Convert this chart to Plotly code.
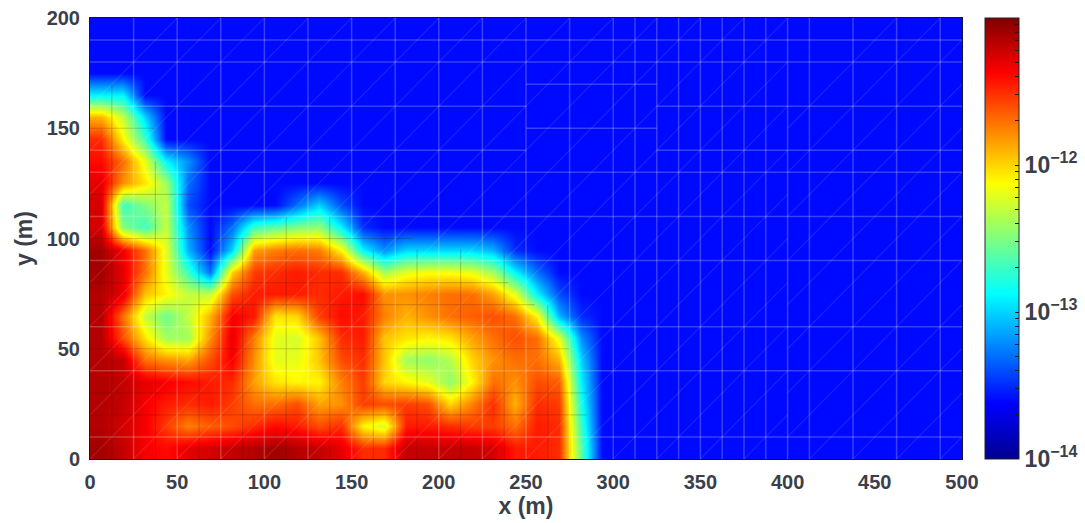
import math
import plotly.graph_objects as go

FONT = "Liberation Sans"
INK = "#3a3f4a"
BACKGROUND = -13.6          # log10 of the undisturbed region
N_COLS, N_ROWS = 40, 20
cell_x = [6.25 + 12.5 * i for i in range(N_COLS)]
cell_y = [5 + 10 * j for j in range(N_ROWS)]

# log10 of the field, cell by cell from x = 0 rightwards, one list per row of cells
row_y005 = [-11.1,-11.2,-11.35,-11.4,-11.3,-11.25,-11.2,-11.15,-11.1,-11.15,-11.2,-11.3,-11.5,-11.5,-11.2,-11.2,-11.2,-11.2,-11.25,-11.45,-11.45,-11.5,-12.6]
row_y015 = [-11.15,-11.25,-11.35,-11.55,-11.75,-11.65,-11.6,-11.5,-11.4,-11.45,-11.6,-11.5,-12.1,-12.25,-11.45,-11.45,-11.5,-11.55,-11.55,-11.7,-11.45,-11.5,-12.7]
row_y025 = [-11.15,-11.2,-11.35,-11.45,-11.5,-11.45,-11.55,-11.7,-11.7,-11.6,-11.85,-11.8,-11.55,-11.6,-11.55,-11.6,-12.0,-11.75,-11.5,-11.9,-11.5,-11.55,-12.8]
row_y035 = [-11.15,-11.2,-11.3,-11.35,-11.4,-11.45,-11.5,-11.85,-12.05,-12.1,-12.1,-11.75,-11.55,-12.0,-12.1,-12.2,-12.45,-12.1,-11.7,-11.8,-11.6,-11.65,-12.9]
row_y045 = [-11.15,-11.2,-11.7,-11.8,-11.85,-11.6,-11.35,-11.8,-12.2,-12.2,-11.95,-11.6,-11.5,-11.95,-12.4,-12.45,-12.35,-12.0,-11.8,-11.7,-11.7,-11.9,-13.0]
row_y055 = [-11.15,-11.6,-12.05,-12.4,-12.4,-11.8,-11.3,-11.75,-12.2,-12.25,-11.95,-11.5,-11.45,-11.95,-12.05,-12.1,-12.05,-11.85,-11.7,-11.6,-11.7,-12.2,-13.2]
row_y065 = [-11.15,-11.7,-12.3,-12.55,-12.3,-11.9,-11.35,-11.45,-12.05,-12.0,-11.55,-11.4,-11.45,-11.75,-11.9,-11.8,-11.7,-11.65,-11.6,-11.7,-12.1,-13.1,-13.5]
row_y075 = [-11.15,-11.3,-11.95,-12.1,-12.3,-12.3,-11.6,-11.45,-11.45,-11.45,-11.5,-11.45,-11.4,-11.8,-11.8,-11.75,-11.7,-11.7,-11.85,-12.2,-12.9,-13.4]
row_y085 = [-11.1,-11.3,-11.7,-12.2,-12.7,-13.3,-12.0,-11.55,-11.5,-11.45,-11.5,-11.5,-11.9,-12.4,-12.2,-12.15,-12.15,-12.2,-12.4,-12.9,-13.3]
row_y095 = [-11.1,-11.35,-11.7,-12.2,-13.1,-13.6,-13.0,-11.85,-11.75,-11.7,-11.75,-12.1,-12.9,-13.2,-13.0,-13.0,-13.0,-13.0,-13.1,-13.5]
row_y105 = [-11.25,-12.5,-12.7,-12.3,-13.2,-13.6,-13.3,-12.7,-12.6,-12.5,-12.45,-12.9,-13.5]
row_y115 = [-11.25,-12.7,-12.5,-12.3,-13.4,-13.6,-13.6,-13.6,-13.6,-13.3,-13.0,-13.4]
row_y125 = [-11.3,-11.8,-12.05,-12.4,-13.3]
row_y135 = [-11.4,-11.7,-12.2,-12.9,-13.2]
row_y145 = [-11.5,-12.1,-12.7]
row_y155 = [-11.9,-12.3,-13.0]
row_y165 = [-12.9,-12.9]
rows = [row_y005, row_y015, row_y025, row_y035, row_y045, row_y055, row_y065, row_y075,
        row_y085, row_y095, row_y105, row_y115, row_y125, row_y135, row_y145, row_y155, row_y165]

z = [r + [BACKGROUND] * (N_COLS - len(r)) for r in rows]
z += [[BACKGROUND] * N_COLS for _ in range(N_ROWS - len(z))]

# mesh lines: position, start, end
light_v = [25,50,75,100,125,150,175,200,225,250,275,300,312.5,325,337.5,350,362.5,375,387.5,400,412.5,437.5,462.5,487.5]
light_h = [(10,0,500),(40,0,500),(60,0,500),(90,0,500),(110,0,500),(130,0,500),(140,0,250),(140,325,500),
           (160,0,250),(160,325,500),(150,250,325),(170,250,325),(180,0,500),(190,0,500)]
dark_v = [12.5,37.5,62.5,87.5,112.5,137.5,162.5,187.5,212.5,237.5,262.5]
dark_v_top = [170,135,90,100,110,110,95,95,95,95,70]
dark_h = [(20,0,285),(30,0,285),(50,0,275),(70,0,255),(80,0,240),(100,0,185),(120,0,60),(150,0,37)]
hatch_left = list(range(-8, 17))     # offset of each diagonal, in 25 m columns
hatch_right = [n + 0.5 for n in range(8, 21)]

def poly(segments):
    xs, ys = [], []
    for (x0, y0, x1, y1) in segments:
        xs += [x0, x1, None]
        ys += [y0, y1, None]
    return xs, ys

def line_trace(segments, color, width=1.0):
    xs, ys = poly(segments)
    return go.Scatter(x=xs, y=ys, mode="lines", line=dict(color=color, width=width),
                      hoverinfo="skip", showlegend=False)

hatch = [(0, 0.8 * (0 - 25 * k), 400, 0.8 * (400 - 25 * k)) for k in hatch_left]
hatch += [(400, 0.8 * (400 - 25 * k), 500, 0.8 * (500 - 25 * k)) for k in hatch_right]

PLOT_W, PLOT_H = 872, 441
CB_LEFT = 895 / PLOT_W
DECADES = [-14, -13, -12]
ZMIN, ZMAX = -14, -11

cb_vals, cb_text = [], []
for d in DECADES:
    for m in range(1, 10):
        cb_vals.append(d + math.log10(m))
        cb_text.append("10<sup>\u2212%d</sup>" % abs(d) if m == 1 else "")

fig = go.Figure()
fig.add_trace(go.Heatmap(
    x=cell_x, y=cell_y, z=z, zsmooth="best", zmin=ZMIN, zmax=ZMAX,
    colorscale=[[0, "rgb(0,0,143)"], [0.125, "rgb(0,0,255)"], [0.375, "rgb(0,255,255)"],
                [0.625, "rgb(255,255,0)"], [0.875, "rgb(255,0,0)"], [1, "rgb(128,0,0)"]],
    colorbar=dict(
        x=CB_LEFT, xanchor="left", xref="paper", y=0.5, yanchor="middle", len=1, thickness=34,
        xpad=0, ypad=0,
        outlinecolor="#20242c", outlinewidth=1, ticks="inside", ticklen=4, tickcolor="#15181e",
        tickvals=cb_vals, ticktext=cb_text,
        tickfont=dict(family=FONT, size=23, color=INK, weight=700),
    ),
))
fig.add_trace(line_trace(hatch, "rgba(255,255,255,0.10)", 1.2))
fig.add_trace(line_trace([(x, 0, x, top) for x, top in zip(dark_v, dark_v_top)], "rgba(60,20,0,0.20)", 1.2))
fig.add_trace(line_trace([(a, y, b, y) for y, a, b in dark_h], "rgba(60,20,0,0.20)", 1.2))
fig.add_trace(line_trace([(x, 0, x, 200) for x in light_v], "rgba(255,255,255,0.22)", 1.5))
fig.add_trace(line_trace([(a, y, b, y) for y, a, b in light_h], "rgba(255,255,255,0.22)", 1.5))

axis_common = dict(
    showgrid=False, zeroline=False, ticks="outside", ticklen=5, tickcolor="rgba(0,0,0,0)",
    showline=True, linecolor="#14143a", linewidth=1, mirror=True,
    tickfont=dict(family=FONT, size=20, color=INK, weight=700),
)
fig.update_layout(
    width=1085, height=523, margin=dict(l=90, r=123, t=18, b=64, autoexpand=False),
    paper_bgcolor="white", plot_bgcolor="white", showlegend=False,
    xaxis=dict(range=[0, 500], tickvals=[0,50,100,150,200,250,300,350,400,450,500],
               title=dict(text="x (m)", standoff=3, font=dict(family=FONT, size=23, color=INK, weight=700)),
               **axis_common),
    yaxis=dict(range=[0, 200], tickvals=[0,50,100,150,200],
               title=dict(text="y (m)", standoff=7, font=dict(family=FONT, size=23, color=INK, weight=700)),
               **axis_common),
)
# the page's default 8 px body margin would shift the figure
fig.write_html("out.html", config={"displayModeBar": False},
               post_script="document.body.style.margin='0';document.body.style.overflow='hidden';")
